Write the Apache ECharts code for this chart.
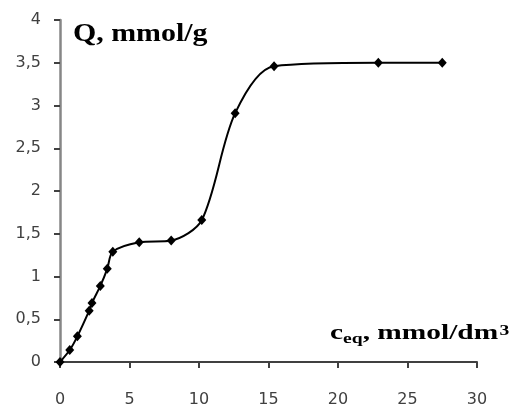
<!DOCTYPE html>
<html>
<head>
<meta charset="utf-8">
<script src="https://cdn.jsdelivr.net/npm/echarts@6/dist/echarts.min.js"></script>
<style>
  html, body { margin: 0; padding: 0; background: #fff; }
  #main { width: 515px; height: 405px; }
</style>
</head>
<body>
<div id="main"></div>
<script>
// equilibrium concentration, mmol/dm3
var ceq = [0, 0.7, 1.25, 2.1, 2.3, 2.9, 3.4, 3.8, 5.7, 8.0, 10.2, 12.6, 15.4, 22.9, 27.5];
// sorption capacity, mmol/g
var q = [0, 0.14, 0.3, 0.6, 0.69, 0.89, 1.09, 1.29, 1.4, 1.42, 1.66, 2.91, 3.46, 3.5, 3.5];

var xTickLabels = ['0', '5', '10', '15', '20', '25', '30'];
var yTickLabels = ['0', '0,5', '1', '1,5', '2', '2,5', '3', '3,5', '4'];

var points = ceq.map(function (x, i) { return [x, q[i]]; });

var myChart = echarts.init(document.getElementById('main'));

var option = {
    backgroundColor: '#fff',
    animation: false,
    grid: { left: 60, right: 38, top: 20, bottom: 43, outerBoundsMode: 'none', containLabel: false },
    xAxis: {
        type: 'value',
        min: 0,
        max: 30,
        interval: 5,
        splitLine: { show: false },
        axisLine: { lineStyle: { color: '#404040', width: 2 } },
        axisTick: { length: 6, lineStyle: { color: '#404040', width: 2 } },
        axisLabel: {
            margin: 30,
            fontFamily: 'DejaVu Sans',
            fontSize: 16,
            color: '#404040',
            formatter: function (v) { return xTickLabels[Math.round(v / 5)]; }
        }
    },
    yAxis: {
        type: 'value',
        min: 0,
        max: 4,
        interval: 0.5,
        splitLine: { show: false },
        axisLine: { show: true, lineStyle: { color: '#868686', width: 2.5 } },
        axisTick: { show: true, length: 6, lineStyle: { color: '#404040', width: 2 } },
        axisLabel: {
            margin: 19,
            fontFamily: 'DejaVu Sans',
            fontSize: 16,
            color: '#404040',
            formatter: function (v) { return yTickLabels[Math.round(v / 0.5)]; }
        }
    },
    series: [{
        type: 'line',
        data: points,
        smooth: 0.3,
        symbol: 'diamond',
        symbolSize: [9, 10],
        lineStyle: { color: '#000', width: 2 },
        itemStyle: { color: '#000' }
    }],
    graphic: [
        {
            type: 'text',
            x: 73,
            y: 21,
            scaleX: 1.15,
            style: {
                text: 'Q, mmol/g',
                fontFamily: 'Liberation Serif',
                fontWeight: 'bold',
                fontSize: 26,
                fill: '#000',
                textVerticalAlign: 'top'
            }
        },
        {
            type: 'text',
            x: 330,
            y: 322,
            scaleX: 1.4,
            style: {
                text: '{m|c}{s|eq}{m|, mmol/dm}{p|3}',
                fill: '#000',
                textVerticalAlign: 'top',
                rich: {
                    m: { fontFamily: 'Liberation Serif', fontWeight: 'bold', fontSize: 21, lineHeight: 24 },
                    s: { fontFamily: 'Liberation Serif', fontWeight: 'bold', fontSize: 14, verticalAlign: 'bottom', lineHeight: 24 },
                    p: { fontFamily: 'Liberation Serif', fontWeight: 'bold', fontSize: 14, verticalAlign: 'top', padding: [2, 0, 0, 1], lineHeight: 24 }
                }
            }
        }
    ]
};

myChart.setOption(option);
</script>
</body>
</html>
